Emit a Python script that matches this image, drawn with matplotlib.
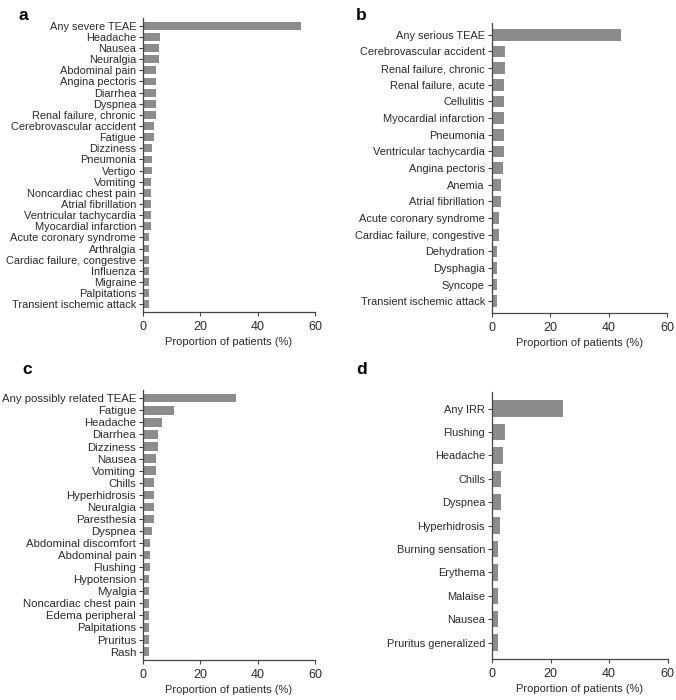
import matplotlib
matplotlib.use("Agg")
import matplotlib.pyplot as plt

plt.rcParams['font.family'] = ['Liberation Sans', 'DejaVu Sans']

# panel a: severe TEAEs
severe_labels = ['Any severe TEAE', 'Headache', 'Nausea', 'Neuralgia', 'Abdominal pain',
                 'Angina pectoris', 'Diarrhea', 'Dyspnea', 'Renal failure, chronic',
                 'Cerebrovascular accident', 'Fatigue', 'Dizziness', 'Pneumonia', 'Vertigo',
                 'Vomiting', 'Noncardiac chest pain', 'Atrial fibrillation',
                 'Ventricular tachycardia', 'Myocardial infarction', 'Acute coronary syndrome',
                 'Arthralgia', 'Cardiac failure, congestive', 'Influenza', 'Migraine',
                 'Palpitations', 'Transient ischemic attack']
severe_values = [55.1, 6.1, 5.5, 5.5, 4.4, 4.4, 4.4, 4.4, 4.4, 3.8, 3.8, 3.2, 3.2, 3.2,
                 2.8, 2.8, 2.8, 2.8, 2.8, 2.2, 2.2, 2.2, 2.2, 2.2, 2.2, 2.2]

# panel b: serious TEAEs
serious_labels = ['Any serious TEAE', 'Cerebrovascular accident', 'Renal failure, chronic',
                  'Renal failure, acute', 'Cellulitis', 'Myocardial infarction', 'Pneumonia',
                  'Ventricular tachycardia', 'Angina pectoris', 'Anemia', 'Atrial fibrillation',
                  'Acute coronary syndrome', 'Cardiac failure, congestive', 'Dehydration',
                  'Dysphagia', 'Syncope', 'Transient ischemic attack']
serious_values = [44.2, 4.7, 4.7, 4.3, 4.3, 4.3, 4.3, 4.3, 3.8, 3.1, 3.1, 2.4, 2.4,
                  1.7, 1.7, 1.7, 1.7]

# panel c: possibly related TEAEs
related_labels = ['Any possibly related TEAE', 'Fatigue', 'Headache', 'Diarrhea', 'Dizziness',
                  'Nausea', 'Vomiting', 'Chills', 'Hyperhidrosis', 'Neuralgia', 'Paresthesia',
                  'Dyspnea', 'Abdominal discomfort', 'Abdominal pain', 'Flushing',
                  'Hypotension', 'Myalgia', 'Noncardiac chest pain', 'Edema peripheral',
                  'Palpitations', 'Pruritus', 'Rash']
related_values = [32.5, 10.8, 6.8, 5.2, 5.2, 4.4, 4.4, 3.8, 3.8, 3.8, 3.8, 3.2, 2.4, 2.4,
                  2.4, 2.2, 2.2, 2.2, 2.2, 2.2, 2.2, 2.2]

# panel d: infusion-related reactions
irr_labels = ['Any IRR', 'Flushing', 'Headache', 'Chills', 'Dyspnea', 'Hyperhidrosis',
              'Burning sensation', 'Erythema', 'Malaise', 'Nausea', 'Pruritus generalized']
irr_values = [24.3, 4.4, 3.75, 3.2, 3.2, 2.7, 2.2, 2.2, 2.2, 2.2, 2.2]

BAR_COLOR = '#8c8c8c'
TEXT_COLOR = '#2b2b2b'


def draw_panel(ax, labels, values, label_size=8.0):
    n = len(labels)
    pos = list(range(n))
    ax.barh(pos, values, height=0.7, color=BAR_COLOR)
    ax.set_yticks(pos)
    ax.set_yticklabels(labels, fontsize=label_size, color=TEXT_COLOR)
    ax.set_ylim(n - 1 + 0.7, -0.7)
    ax.set_xlim(0, 60)
    ax.set_xticks([0, 20, 40, 60])
    ax.tick_params(axis='x', labelsize=9, labelcolor=TEXT_COLOR, length=3, color='#444')
    ax.tick_params(axis='y', length=3, color='#444', pad=2)
    for side in ('top', 'right'):
        ax.spines[side].set_visible(False)
    for side in ('left', 'bottom'):
        ax.spines[side].set_color('#444')
        ax.spines[side].set_linewidth(0.9)
    ax.set_xlabel('Proportion of patients (%)', fontsize=8, color=TEXT_COLOR, labelpad=3)


fig = plt.figure(figsize=(6.76, 7.0), dpi=100)

ax_a = fig.add_axes([0.2115, 0.5543, 0.2544, 0.420])
ax_b = fig.add_axes([0.7274, 0.5529, 0.2593, 0.414])
ax_c = fig.add_axes([0.2115, 0.0571, 0.2544, 0.386])
ax_d = fig.add_axes([0.7278, 0.0586, 0.2600, 0.381])

draw_panel(ax_a, severe_labels, severe_values, 7.9)
draw_panel(ax_b, serious_labels, serious_values, 7.9)
draw_panel(ax_c, related_labels, related_values, 8.2)
draw_panel(ax_d, irr_labels, irr_values, 7.9)

for letter, x, y in [('a', 0.027, 0.978), ('b', 0.527, 0.978),
                     ('c', 0.033, 0.472), ('d', 0.527, 0.472)]:
    fig.text(x, y, letter, fontsize=12.5, fontweight='bold', color='black',
             ha='left', va='center')

fig.savefig('out.png', dpi=100)
plt.close(fig)
